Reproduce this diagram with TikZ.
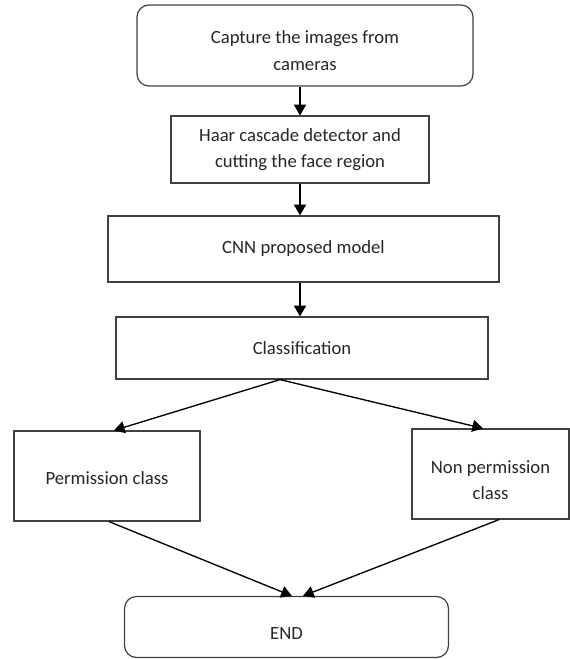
\documentclass[tikz,border=0pt]{standalone}
\usepackage{fontspec}
\setmainfont{Carlito}
\usepackage{tikz}
\usetikzlibrary{arrows.meta}

\definecolor{boxgray}{HTML}{404040}
\definecolor{textgray}{HTML}{262626}

\begin{document}
\begin{tikzpicture}[->,>={Triangle[length=8pt,width=9pt]},x=0.75pt,y=-0.75pt,
                    line width=1pt]
\tikzstyle{every node}=[text=textgray]
\tikzstyle{box}=[draw=boxgray,line width=0.9pt,inner sep=2pt,align=center]
\tikzstyle{roundbox}=[box,rounded corners=9pt]
\tikzset{font=\fontsize{14pt}{20pt}\selectfont}

\useasboundingbox (0,0) rectangle (569,659);

        \node[roundbox,minimum width=252pt,minimum height=60.75pt]      (cap)     at (305,45.5)   {\rule{0pt}{17.5pt}Capture the images from\\cameras};
        \node[box,minimum width=193.5pt,minimum height=50.25pt]          (haar)    at (300,149.5)  {Haar cascade detector and\\cutting the face region};
        \node[box,minimum width=293.25pt,minimum height=49.5pt]          (cnn)     at (303.5,249)  {CNN proposed model};
        \node[box,minimum width=279pt,minimum height=46.5pt]             (cls)     at (302,348)    {Classification};

        \node[box,minimum width=139.5pt,minimum height=67.5pt]           (perm)    at (107,476)    {\rule{0pt}{13pt}Permission class};
        \node[box,minimum width=117.75pt,minimum height=67.5pt]          (nonperm) at (490.5,474)  {\rule{0pt}{19pt}Non permission\\class};

        \node[roundbox,minimum width=243pt,minimum height=45.75pt]       (end)     at (286.5,627)  {\rule{0pt}{18pt}END};

        \coordinate (split) at ([xshift=-16.5pt]cls.south);

        \path[->]
        (cap.south -| haar.north)     edge node {}     (haar.north)
        (haar.south)                  edge node {}     (haar.south |- cnn.north)
        (cnn.south -| haar.south)     edge node {}     (cls.north -| haar.south)
        (split)                       edge node {}     ([xshift=5.25pt]perm.north)
        (split)                       edge node {}     ([xshift=-5.6pt]nonperm.north)
        ([xshift=1.5pt]perm.south)    edge node {}     ([xshift=4pt]end.north)
        ([xshift=6.4pt]nonperm.south) edge node {}     ([xshift=12.4pt]end.north)
        ; %end path

\end{tikzpicture}
\end{document}
